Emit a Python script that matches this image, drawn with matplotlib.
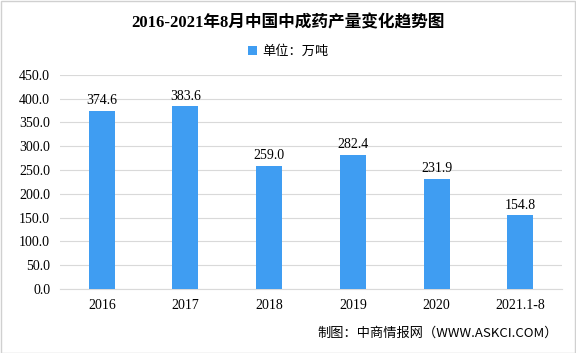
import matplotlib.pyplot as plt
import numpy as np

plt.rcParams['font.family'] = ['Liberation Serif', 'Noto Sans CJK SC']

years = ['2016', '2017', '2018', '2019', '2020', '2021.1-8']
output = [374.6, 383.6, 259.0, 282.4, 231.9, 154.8]
yticks = np.arange(0, 451, 50)

fig = plt.figure(figsize=(5.76, 3.53), dpi=100)
ax = fig.add_axes([0.104, 0.181, 0.872, 0.607])

x = np.arange(len(years))
bars = ax.bar(x, output, width=0.31, color='#3f9df2', zorder=3, label='单位：万吨')
for xi, v in zip(x, output):
    ax.text(xi, v + 8, '%.1f' % v, ha='center', va='bottom', fontsize=10)

ax.set_xlim(-0.5, len(years) - 0.5)
ax.set_ylim(0, 450)
ax.set_yticks(yticks)
ax.set_yticklabels(['%.1f' % t for t in yticks], fontsize=10)
ax.set_xticks(x)
ax.set_xticklabels(years, fontsize=10)
ax.yaxis.grid(True, color='#d9d9d9', linewidth=0.8, zorder=0)
ax.tick_params(length=0, pad=7)
for s in ['top', 'right', 'left']:
    ax.spines[s].set_visible(False)
ax.spines['bottom'].set_color('#d9d9d9')

fig.text(0.5, 0.935, '2016-2021年8月中国中成药产量变化趋势图', ha='center', va='center',
         fontsize=12, fontweight='bold', family=['Liberation Serif', 'Noto Sans CJK SC'])
ax.legend(loc='center', bbox_to_anchor=(0.455, 1.11), frameon=False,
          prop={'family': 'Noto Sans CJK SC', 'size': 9.5}, handlelength=0.7, handleheight=0.7,
          handletextpad=0.4)
fig.text(0.968, 0.057, '制图：中商情报网（WWW.ASKCI.COM）', ha='right', va='center',
         fontsize=9.5, family=['Noto Sans CJK SC', 'Liberation Serif'])

fig.patches.append(plt.Rectangle((0.001, 0.001), 0.997, 0.997, transform=fig.transFigure,
                                 fill=False, edgecolor='#d0d0d0', linewidth=1))
fig.savefig('out.png', dpi=100)
